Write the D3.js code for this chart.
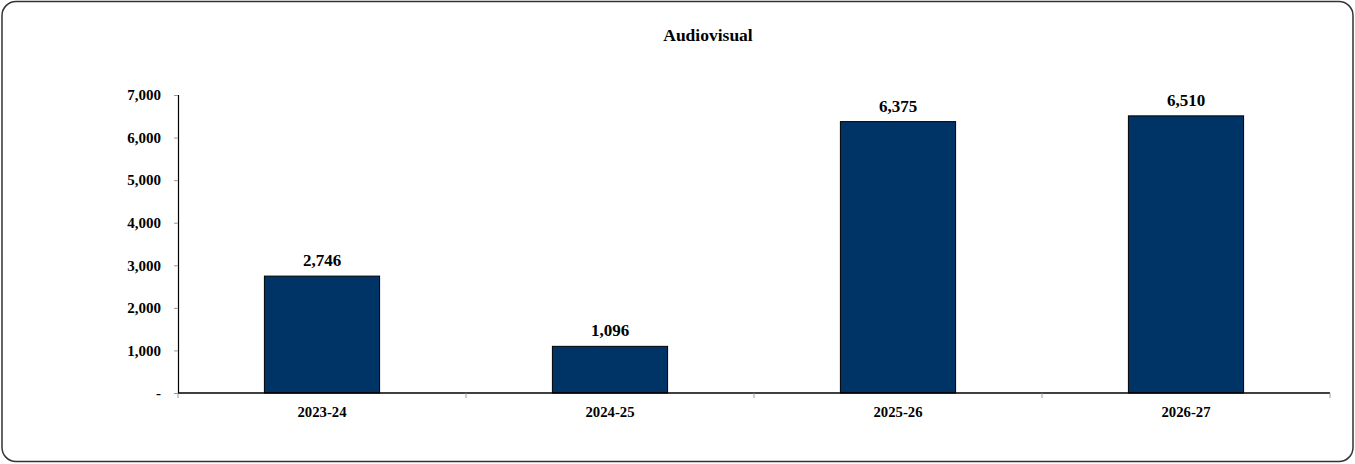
<!DOCTYPE html>
<html><head><meta charset="utf-8">
<script src="https://cdn.jsdelivr.net/npm/d3@7"></script>
<style>
html,body{margin:0;padding:0;background:#fff;}
svg text{font-family:"Liberation Serif","Times New Roman",serif;font-weight:bold;fill:#000;}
</style></head>
<body>
<svg id="chart" width="1355" height="464"></svg>
<script>
const title = "Audiovisual";
const categories = ["2023-24", "2024-25", "2025-26", "2026-27"];
const values = [2746, 1096, 6375, 6510];
const yTicks = [0, 1000, 2000, 3000, 4000, 5000, 6000, 7000];

const svg = d3.select("#chart");
const W = 1355, H = 464;
const m = {left: 178, right: 25, top: 95, bottom: 71};
const iw = W - m.left - m.right, ih = H - m.top - m.bottom;

svg.append("rect").attr("x", 2).attr("y", 1.5).attr("width", W - 4).attr("height", H - 4)
  .attr("rx", 14).attr("ry", 14).attr("fill", "#fff").attr("stroke", "#333").attr("stroke-width", 1.5);

svg.append("text").attr("x", 708).attr("y", 41).attr("text-anchor", "middle")
  .style("font-size", "17.5px").text(title);

const g = svg.append("g").attr("transform", `translate(${m.left},${m.top})`);
const x = d3.scaleBand().domain(categories).range([0, iw]).paddingInner(0.6).paddingOuter(0.3);
const y = d3.scaleLinear().domain([0, 7000]).range([ih, 0]);

const fmt = d => d === 0 ? "-" : d3.format(",")(d);

const ya = g.append("g").call(d3.axisLeft(y).tickValues(yTicks).tickFormat(fmt).tickSize(4).tickPadding(13));
ya.select(".domain").attr("stroke", "#000").attr("stroke-width", 1.2);
ya.selectAll(".tick line").attr("stroke", "#999");
ya.selectAll(".tick text").style("font-size", "15px").style("font-family", "Liberation Serif").style("font-weight", "bold");

// bars
g.selectAll("rect.bar").data(values).join("rect").attr("class", "bar")
  .attr("x", (d, i) => x(categories[i])).attr("width", x.bandwidth())
  .attr("y", d => y(d)).attr("height", d => ih - y(d))
  .attr("fill", "#003366").attr("stroke", "#000").attr("stroke-width", 1);

g.selectAll("text.val").data(values).join("text").attr("class", "val")
  .attr("x", (d, i) => x(categories[i]) + x.bandwidth() / 2).attr("y", d => y(d) - 10)
  .attr("text-anchor", "middle").style("font-size", "17px").text(d => d3.format(",")(d));

// x axis
const step = x.step();
const xa = g.append("g").attr("transform", `translate(0,${ih})`);
xa.append("line").attr("x1", 0).attr("x2", iw).attr("stroke", "#000").attr("stroke-width", 1.5);
xa.selectAll("line.tk").data(d3.range(categories.length + 1)).join("line").attr("class", "tk")
  .attr("x1", i => i * step).attr("x2", i => i * step).attr("y1", 0).attr("y2", 5).attr("stroke", "#999");
xa.selectAll("text").data(categories).join("text")
  .attr("x", d => x(d) + x.bandwidth() / 2).attr("y", 23.5).attr("text-anchor", "middle")
  .style("font-size", "14.7px").text(d => d);
</script>
</body></html>
